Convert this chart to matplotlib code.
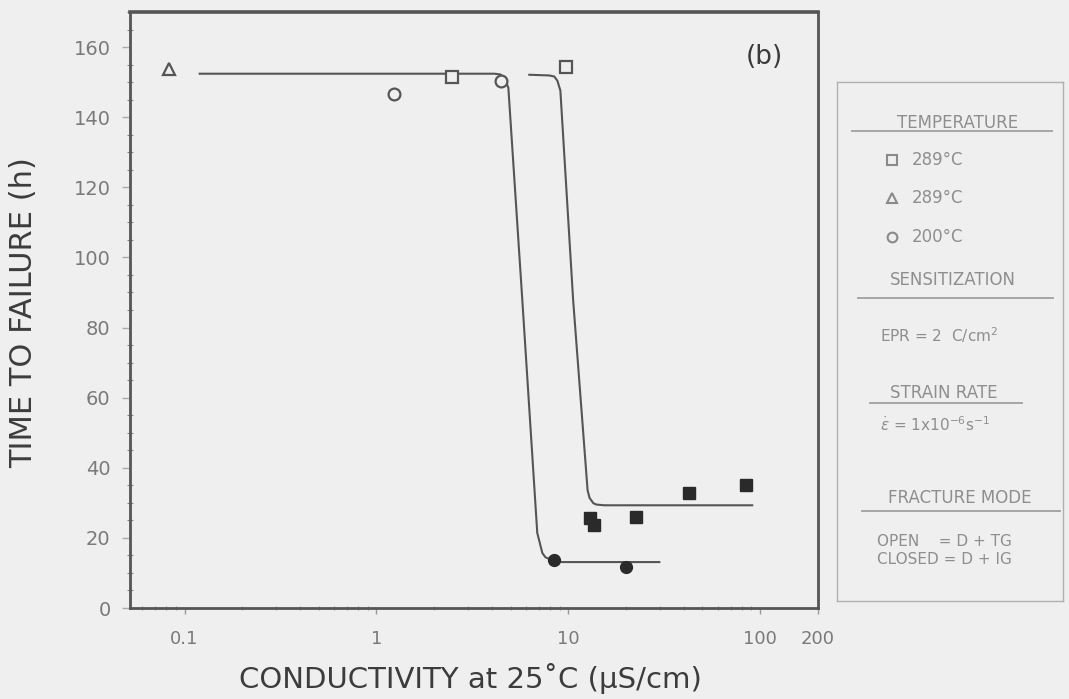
import matplotlib
matplotlib.use("Agg")
import matplotlib.pyplot as plt
from matplotlib.lines import Line2D
from matplotlib.ticker import FixedLocator, FixedFormatter, MultipleLocator, LogLocator, NullFormatter

# measured points: conductivity (uS/cm) vs. time to failure (h)
tri_x = [0.083]
tri_y = [153.8]
open_sq_x = [2.49, 9.77]
open_sq_y = [151.6, 154.4]
open_circ_x = [1.23, 4.48]
open_circ_y = [146.7, 150.4]
closed_sq_x = [12.9, 13.6, 22.6, 42.6, 84.5]
closed_sq_y = [25.6, 23.6, 25.9, 32.8, 35.0]
closed_circ_x = [8.45, 20.0]
closed_circ_y = [13.7, 11.7]

# hand-drawn trend curves
curve_a_x = [0.12, 4.12, 4.42, 4.64, 4.87, 5.76, 6.89, 7.32, 7.59, 8.15, 9.19, 29.8]
curve_a_y = [152.4, 152.4, 152.2, 151.3, 148.4, 87.7, 21.4, 15.7, 14.5, 13.7, 13.1, 13.1]
curve_b_x = [6.26, 7.96, 8.45, 8.77, 9.09, 10.6, 12.6, 12.9, 13.5, 14.0, 15.4, 90.8]
curve_b_y = [152.1, 151.9, 151.6, 150.4, 147.6, 87.7, 33.6, 31.4, 29.9, 29.5, 29.3, 29.3]

x_ticks = [0.1, 1, 10, 100, 200]
x_tick_labels = ["0.1", "1", "10", "100", "200"]

W, H = 1069, 699
BG = "#efefef"
INK = "#3a3a3a"
GREY = "#7a7a7a"
LIGHT = "#8e8e8e"

plt.rcParams["font.family"] = ["DejaVu Sans"]

fig = plt.figure(figsize=(W / 100, H / 100), dpi=100, facecolor=BG)


def fx(x):
    return x / W


def fy(y):
    return 1 - y / H


ax = fig.add_axes([fx(130), fy(608), fx(818) - fx(130), fy(12) - fy(608)])
ax.set_facecolor(BG)
ax.set_xscale("log")
ax.set_xlim(0.052, 200)
ax.set_ylim(0, 170)

ax.plot(curve_a_x, curve_a_y, color="#555555", lw=1.5, zorder=2)
ax.plot(curve_b_x, curve_b_y, color="#555555", lw=1.5, zorder=2)

ax.plot(tri_x, tri_y, ls="none", marker="^", ms=8.5, mfc=BG, mec="#555555", mew=1.6, zorder=3)
ax.plot(open_sq_x, open_sq_y, ls="none", marker="s", ms=8.5, mfc=BG, mec="#555555", mew=1.6, zorder=3)
ax.plot(open_circ_x, open_circ_y, ls="none", marker="o", ms=8.5, mfc=BG, mec="#555555", mew=1.6, zorder=3)
ax.plot(closed_sq_x, closed_sq_y, ls="none", marker="s", ms=8.5, mfc="#2a2a2a", mec="#2a2a2a", zorder=3)
ax.plot(closed_circ_x, closed_circ_y, ls="none", marker="o", ms=8.5, mfc="#2a2a2a", mec="#2a2a2a", zorder=3)

for side in ["left", "right", "top", "bottom"]:
    ax.spines[side].set_color("#555555")
    ax.spines[side].set_linewidth(2)
ax.spines["top"].set_linewidth(2.6)

ax.xaxis.set_major_locator(FixedLocator(x_ticks))
ax.xaxis.set_major_formatter(FixedFormatter(x_tick_labels))
ax.xaxis.set_minor_locator(LogLocator(base=10, subs=range(2, 10), numticks=20))
ax.xaxis.set_minor_formatter(NullFormatter())
ax.yaxis.set_major_locator(MultipleLocator(20))
ax.yaxis.set_minor_locator(MultipleLocator(5))

ax.tick_params(axis="x", which="major", direction="out", length=4, width=1, color="#999999",
               labelsize=13, labelcolor=GREY, pad=12)
ax.tick_params(axis="x", which="minor", direction="inout", length=3, width=0.8, color="#999999")
ax.tick_params(axis="y", which="major", direction="out", length=6, width=1, color="#aaaaaa",
               labelsize=14, labelcolor=GREY, pad=8)
ax.tick_params(axis="y", which="minor", direction="inout", length=4, width=0.8, color="#888888")

fig.text(fx(764), fy(57), "(b)", fontsize=19, color=INK, ha="center", va="center")

fig.text(fx(470), fy(678), "CONDUCTIVITY at 25\u02daC (\u00b5S/cm)", fontsize=21, color="#3c3c3c",
         ha="center", va="center")
fig.text(fx(24), fy(313), "TIME TO FAILURE (h)", fontsize=22, color="#3c3c3c", rotation=90,
         ha="center", va="center")

# side panel with test conditions
leg = fig.add_axes([fx(837), fy(601), fx(1063) - fx(837), fy(82) - fy(601)])
leg.set_facecolor(BG)
leg.set_xticks([])
leg.set_yticks([])
for side in leg.spines.values():
    side.set_color("#b0b0b0")
    side.set_linewidth(1)

legend_fs = 12


def heading(text, xc, y, x0, x1, y_line):
    fig.text(fx(xc), fy(y), text, fontsize=legend_fs, color=LIGHT, ha="center", va="center")
    fig.add_artist(Line2D([fx(x0), fx(x1)], [fy(y_line), fy(y_line)], color="#a0a0a0", lw=1.3))


heading("TEMPERATURE", 958, 123, 852, 1052, 131)
for marker, label, y in [("s", "289\u00b0C", 160), ("^", "289\u00b0C", 198), ("o", "200\u00b0C", 237)]:
    fig.add_artist(Line2D([fx(892)], [fy(y)], ls="none", marker=marker, ms=7, mfc=BG,
                          mec="#8a8a8a", mew=1.5))
    fig.text(fx(912), fy(y), label, fontsize=legend_fs, color=LIGHT, ha="left", va="center")

heading("SENSITIZATION", 953, 280, 858, 1053, 298)
fig.text(fx(880), fy(335), "EPR = 2  C/cm$^2$", fontsize=11, color=LIGHT, ha="left", va="center")

heading("STRAIN RATE", 944, 393, 870, 1022, 403)
fig.text(fx(880), fy(425), r"$\dot{\varepsilon}$ = 1x10$^{-6}$s$^{-1}$", fontsize=11, color=LIGHT,
         ha="left", va="center")

heading("FRACTURE MODE", 960, 498, 862, 1060, 511)
fig.text(fx(877), fy(542), "OPEN    = D + TG", fontsize=11, color=LIGHT, ha="left", va="center")
fig.text(fx(877), fy(560), "CLOSED = D + IG", fontsize=11, color=LIGHT, ha="left", va="center")

fig.savefig("out.png", dpi=100, facecolor=BG)
